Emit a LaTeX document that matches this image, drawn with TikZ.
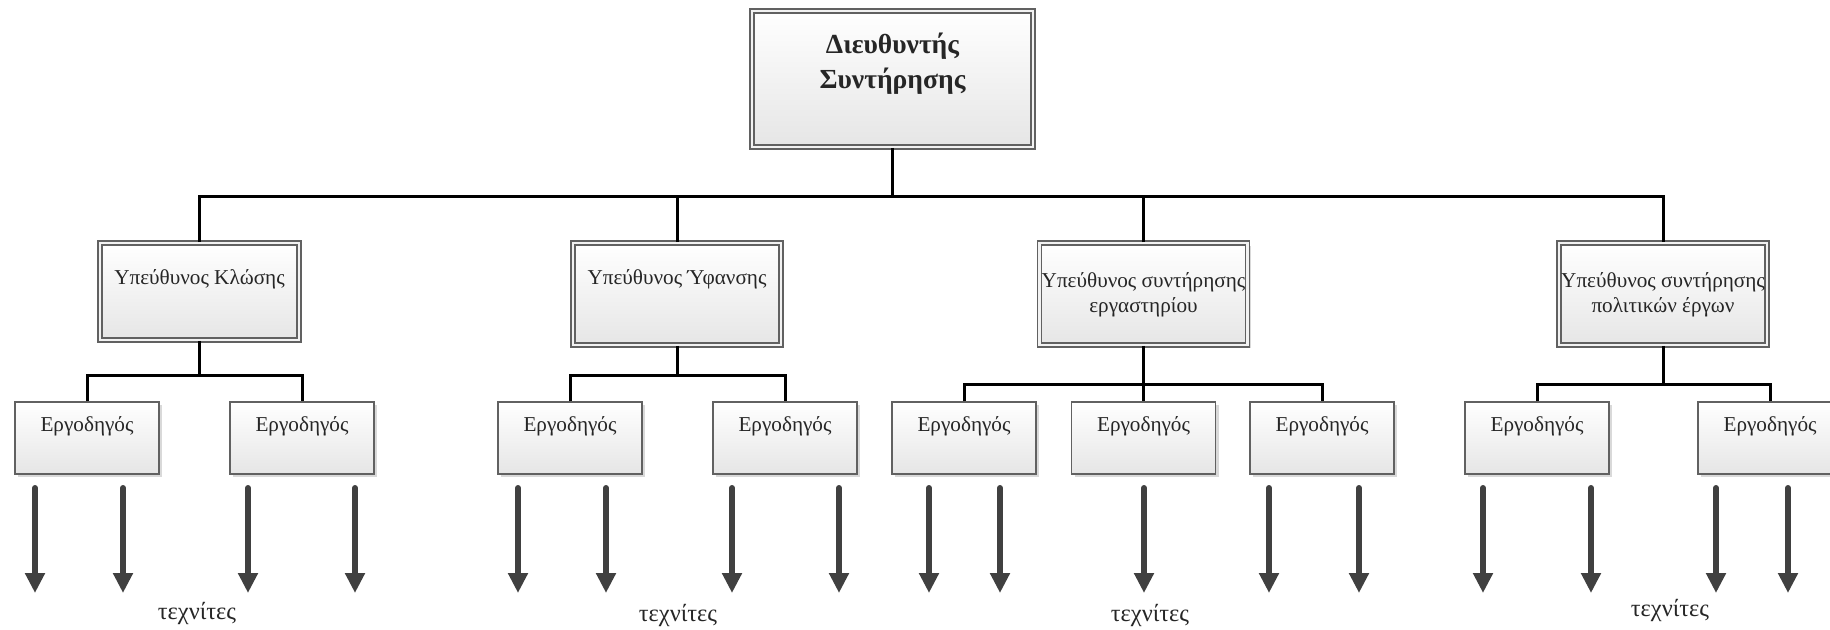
\documentclass[tikz,border=0pt]{standalone}
\usepackage{fontspec}
\setmainfont{Liberation Serif}
\usetikzlibrary{arrows.meta,shadows}

\begin{document}
\begin{tikzpicture}[x=0.5pt,y=-0.5pt,
  conn/.style={line width=1.5pt,black,line join=miter},
  shadebox/.style={top color=white,bottom color=black!10,
    drop shadow={shadow xshift=1.5pt,shadow yshift=-1.5pt,fill=black!15,opacity=1}},
  doublebox/.style={shadebox,draw=black!62,line width=0.9pt,
    double=black!5,double distance=1.1pt,inner sep=0pt},
  headbox/.style={doublebox,minimum width=140.5pt,minimum height=68pt},
  narrowbox/.style={doublebox,minimum width=99.5pt,minimum height=48.5pt},
  widebox/.style={doublebox,minimum width=104pt,minimum height=51pt},
  leadbox/.style={shadebox,draw=black!62,line width=0.75pt,
    minimum width=72pt,minimum height=36pt,inner sep=0pt},
  headtxt/.style={font=\fontsize{13.8}{17.5}\selectfont\bfseries,align=center,
    text=black!85,inner sep=0pt},
  boxtxt/.style={font=\fontsize{10.6}{12.5}\selectfont,align=center,
    text=black!85,inner sep=0pt},
  crewtxt/.style={font=\fontsize{12.2}{14}\selectfont,text=black!85,inner sep=0pt},
  arw/.style={line width=3pt,black!75,line cap=round,
    -{Triangle[width=9.5pt,length=10pt]}}
]
\useasboundingbox (0,0) rectangle (1830,629);
\clip (0,0) rectangle (1830,629);

% director
\node[headbox] (T) at (892.5,79) {};
\node[headtxt,yshift=7.5pt] (Ttxt) at (T) {Διευθυντής\\Συντήρησης};

% heads of section
\node[narrowbox] (K) at (199.5,291.5) {};
\node[boxtxt,yshift=6pt] (Ktxt) at (K) {Υπεύθυνος Κλώσης};
\node[widebox] (Y) at (677,294) {};
\node[boxtxt,yshift=7.25pt] (Ytxt) at (Y) {Υπεύθυνος Ύφανσης};
\node[widebox] (E) at (1143.5,294) {};
\node[boxtxt,yshift=-0.5pt] (Etxt) at (E) {Υπεύθυνος συντήρησης\\εργαστηρίου};
\node[widebox] (P) at (1663,294) {};
\node[boxtxt,yshift=-0.5pt] (Ptxt) at (P) {Υπεύθυνος συντήρησης\\πολιτικών έργων};

% foremen
\foreach \n/\x in {1/87,2/302,3/570,4/785,5/964,6/1143.5,7/1322,8/1537,9/1770}{
  \node[leadbox] (L\n) at (\x,438) {};
  \node[boxtxt,yshift=6pt] (L\n txt) at (L\n) {Εργοδηγός};
}

% bus lines
\coordinate (bus) at (0,196);
\coordinate (kbus) at (0,375);
\coordinate (ybus) at (0,375);
\coordinate (ebus) at (0,384);
\coordinate (pbus) at (0,384);

\draw[conn] (T.south) -- (T.south |- bus);
\draw[conn] (K.north) -- (K.north |- bus) -- (P.north |- bus) -- (P.north);
\draw[conn] (Y.north) -- (Y.north |- bus);
\draw[conn] (E.north) -- (E.north |- bus);

\draw[conn] (K.south) -- (K.south |- kbus);
\draw[conn] (L1.north) -- (L1.north |- kbus) -- (L2.north |- kbus) -- (L2.north);
\draw[conn] (Y.south) -- (Y.south |- ybus);
\draw[conn] (L3.north) -- (L3.north |- ybus) -- (L4.north |- ybus) -- (L4.north);
\draw[conn] (E.south) -- (L6.north);
\draw[conn] (L5.north) -- (L5.north |- ebus) -- (L7.north |- ebus) -- (L7.north);
\draw[conn] (P.south) -- (P.south |- pbus);
\draw[conn] (L8.north) -- (L8.north |- pbus) -- (L9.north |- pbus) -- (L9.north);

% craftsmen arrows
\foreach \n/\x in {1/35,2/123,3/248,4/355,5/518,6/606,7/732,8/839,
                   9/929,10/1000,11/1144,12/1269,13/1359,
                   14/1483,15/1591,16/1716,17/1788}{
  \coordinate (w\n s) at (\x,488);
  \coordinate (w\n e) at (\x,593);
  \draw[arw] (w\n s) -- (w\n e);
}

\node[crewtxt] (c1) at (197,613) {τεχνίτες};
\node[crewtxt] (c2) at (678,615) {τεχνίτες};
\node[crewtxt] (c3) at (1150,615) {τεχνίτες};
\node[crewtxt] (c4) at (1670,610) {τεχνίτες};
\end{tikzpicture}
\end{document}
